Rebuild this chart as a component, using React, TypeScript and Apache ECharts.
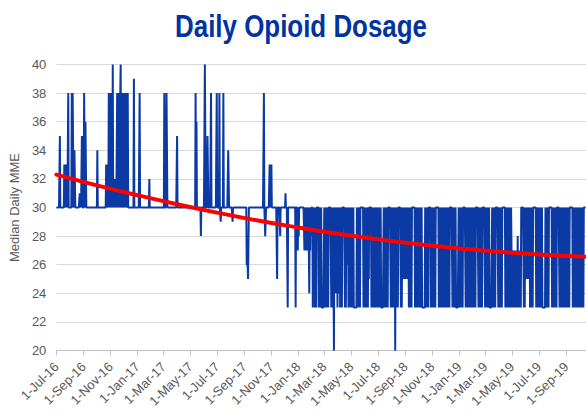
import React, { useEffect, useRef } from "react";
import * as echarts from "echarts";

// Daily median MME, one letter per day: a=20, b=21, ... k=30, ... u=40
const K = (n: number) => "k".repeat(n);

// Jul..Dec 2016
const mme2016 = [
  "kkkkkkkkpkkkkkkkkknknnknnkkskkk",
  "kkkksksskkookkkkkkkkkklklkkppkk",
  "ksskqq" + K(24),
  "ko" + K(19) + "nnknnkskss",
  "ksksk" + "ukmkm" + "mkmkk" + "skssk" + "sksuk" + "ssksk",
  "sksmk" + "sksks" + K(13) + "t" + K(7),
];

// Jan..Dec 2017
const mme2017 = [
  K(5) + "s" + K(21) + "m" + K(3),
  K(28),
  "kks" + K(4) + "ss" + K(22),
  "p" + K(29),
  K(12) + "skq" + K(9) + "i" + K(6),
  "kkuu" + K(4) + "pp" + K(6) + "s" + K(12) + "s",
  K(5) + "skkj" + K(5) + "s" + K(10) + "oo" + K(4),
  K(4) + "j" + K(26),
  K(5) + "gggff" + K(20),
  K(14) + "skkii" + K(8) + "nknk",
  "n" + K(12) + "f" + K(6) + "i" + K(9),
  "kkl" + K(4) + "d" + K(17) + "d" + K(4) + "h",
];

// Jan..Dec 2018
const mme2018 = [
  "ki" + K(12) + "hkikhkhkikhekhkik",
  "kk" + "dkdkdkdkd" + "kkkkk" + "dkdkdkd" + "ddddd",
  "kdkdkdkdkd" + "kkkkkk" + "dkdk" + "gfak" + "ekekfkd",
  "kekfkdkdkd" + "kkkkkk" + "dkdkg" + "kgkdkdkdk",
  "dkdkdkd" + "dddddd" + "kdkdkdkdk" + "kkkkkk" + "dkd",
  "kdkdkdkdkf" + "kkkkk" + "dkdkdkdkd" + "kgkdkd",
  "kdkdkdk" + "dddddd" + "kdkdkdkdkd" + "kkkkkk" + "dk",
  "dkdkdkdkak" + "dkdkd" + "kkkkkk" + "dkd" + "kfkfkgk",
  "fkfkfkfk" + "dkdkdkdk" + "kkkkkk" + "dkdkdkdk",
  "dkdkdkdkd" + "dddddd" + "kdkdkdkd" + "kkkkk" + "dkd",
  "kdkdkdkdk" + "kkkkkk" + "dkdkdkdkd" + "kgkdkd",
  "kdkdkdkdkd" + "kkkkkk" + "dkdkdkdk" + "dddddd" + "k",
];

// Jan..Oct(16th) 2019
const mme2019 = [
  "dkdkdkdkd" + "kkkkkk" + "dkdkdgdkdk" + "dkdkdk",
  "dkdkdkdk" + "kkkkk" + "dkdkdkdkd" + "kkkkkk",
  "dkdkdkdkdk" + "dddddd" + "kdkdkdkd" + "kkkkkk" + "d",
  "kdkdkdkdk" + "kkkkkk" + "dkdkdkdkd" + "kdkdkh",
  "dhdhdhdgdh" + "dhdidhdhdh" + "dk" + "kkkkk" + "dkdk",
  "fkfkfkfkfk" + "dkdkdkdk" + "kkkkkk" + "dkdkdk",
  "dkdkdkdkd" + "dddddd" + "kdkdkdkdk" + "kkkkkk" + "d",
  "kdkdkdkdkd" + "kkkkkk" + "dkdgdkdkd" + "kdkdkd",
  "kdkdkdkdk" + "kkkkkk" + "dkdkdkdkd" + "kdkdkd",
  "kdkdkdkdkd" + "kkkkkk",
];

// Trend line (polynomial trendline) at quarter starts
const trendDates = [
  "2016-07-01", "2016-10-01", "2017-01-01", "2017-04-01", "2017-07-01",
  "2017-10-01", "2018-01-01", "2018-04-01", "2018-07-01", "2018-10-01",
  "2019-01-01", "2019-04-01", "2019-07-01", "2019-10-16",
];
const trendValues = [
  32.3, 31.55, 30.86, 30.23, 29.64, 29.09, 28.6, 28.16, 27.77, 27.43, 27.14, 26.9, 26.71, 26.55,
];

const MONTHS = ["Jan", "Feb", "Mar", "Apr", "May", "Jun", "Jul", "Aug", "Sep", "Oct", "Nov", "Dec"];
const pad = (n: number) => (n < 10 ? "0" + n : "" + n);

function buildDaily() {
  const dates: string[] = [];
  const values: number[] = [];
  const years: [number, number, string[]][] = [
    [2016, 7, mme2016],
    [2017, 1, mme2017],
    [2018, 1, mme2018],
    [2019, 1, mme2019],
  ];
  for (const [y, m0, arr] of years) {
    arr.forEach((s, k) => {
      const m = m0 + k;
      for (let i = 0; i < s.length; i++) {
        dates.push(`${y}-${pad(m)}-${pad(i + 1)}`);
        values.push(s.charCodeAt(i) - 77);
      }
    });
  }
  return { dates, values };
}

const isLabelDay = (v: string) => {
  const m = +v.slice(5, 7);
  return v.slice(8, 10) === "01" && m % 2 === 1;
};
const fmt = (v: string) => `${+v.slice(8, 10)}-${MONTHS[+v.slice(5, 7) - 1]}-${v.slice(2, 4)}`;

export default function App() {
  const ref = useRef<HTMLDivElement>(null);
  useEffect(() => {
    document.body.style.margin = "0";
    if (!ref.current) return;
    const chart = echarts.init(ref.current, undefined, { renderer: "svg" });
    const { dates, values } = buildDaily();
    const font = '"Liberation Sans", Arial, sans-serif';
    chart.setOption({
      animation: false,
      grid: { left: 51, right: 0, top: 64.5, bottom: 66.5 },
      graphic: [
        {
          type: "text",
          x: 301,
          y: 26,
          scaleX: 0.81,
          style: {
            text: "Daily Opioid Dosage",
            font: 'bold 32px "Liberation Sans", Arial, sans-serif',
            fill: "#0033a0",
            align: "center",
            verticalAlign: "middle",
          },
        },
      ],
      xAxis: {
        type: "category",
        data: dates,
        boundaryGap: false,
        axisLine: { lineStyle: { color: "#bfbfbf", width: 1 } },
        axisTick: {
          interval: (_i: number, v: string) => isLabelDay(v),
          length: 5,
          lineStyle: { color: "#bfbfbf" },
        },
        axisLabel: {
          interval: (_i: number, v: string) => isLabelDay(v),
          formatter: (v: string) => fmt(v),
          rotate: 45,
          fontSize: 13,
          color: "#595959",
          fontFamily: font,
          margin: 14,
        },
        splitLine: { show: false },
      },
      yAxis: {
        type: "value",
        min: 20,
        max: 40,
        interval: 2,
        name: "Median Daily MME",
        nameLocation: "middle",
        nameGap: 30,
        nameTextStyle: { fontSize: 13, color: "#595959", fontFamily: font },
        axisLabel: { fontSize: 13, color: "#595959", margin: 10, fontFamily: font },
        axisLine: { show: false },
        axisTick: { show: false },
        splitLine: { lineStyle: { color: "#d9d9d9", width: 1 } },
      },
      series: [
        {
          type: "line",
          data: values,
          showSymbol: false,
          lineStyle: { color: "#0b3aa4", width: 2 },
          z: 2,
        },
        {
          type: "line",
          data: trendDates.map((d, i) => [d, trendValues[i]]),
          smooth: true,
          showSymbol: false,
          lineStyle: { color: "#ff0000", width: 4, cap: "round", join: "round" },
          z: 3,
        },
      ],
    });
    return () => chart.dispose();
  }, []);
  return <div ref={ref} style={{ width: 586, height: 417 }} />;
}
